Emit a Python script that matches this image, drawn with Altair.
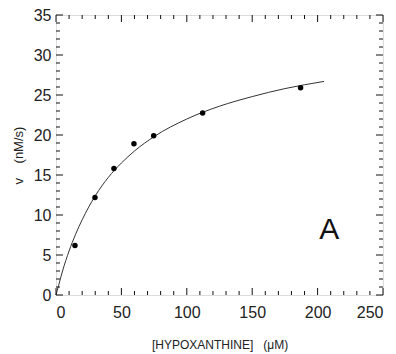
import altair as alt
import pandas as pd

# measured points
hx = [14.5, 29.8, 44.3, 59.6, 74.7, 112.1, 187.0]
v = [6.2, 12.2, 15.8, 18.9, 19.9, 22.75, 25.9]

# fitted curve
curve_x = [0, 2, 5, 10, 15, 20, 30, 40, 50, 60, 75, 100, 125, 150, 175, 205]
curve_y = [0.0, 1.2, 3.0, 5.5, 7.6, 9.4, 12.4, 14.7, 16.5, 18.0, 19.8, 22.0, 23.6, 24.8, 25.8, 26.7]

x_ticks = list(range(0, 251, 10))
y_ticks = list(range(0, 36, 1))
x_labels = [0, 50, 100, 150, 200, 250]
y_labels = [0, 5, 10, 15, 20, 25, 30, 35]

panel_label = ["A"]
panel_x = [209]
panel_y = [8.1]

W, H = 327, 280
FONT = "Liberation Sans"
INK = "#222222"
NB = "\u00a0"
XT = f"[HYPOXANTHINE]{NB*3}(\u03bcM)"
YT = f"v{NB*4}(nM/s)"

xs = alt.Scale(domain=[0, 250], nice=False)
ys = alt.Scale(domain=[0, 35], nice=False)

pts = pd.DataFrame({"x": hx, "y": v})
crv = pd.DataFrame({"x": curve_x, "y": curve_y})
xt = pd.DataFrame({"x": x_ticks, "len": [7 if t % 50 == 0 else 4 for t in x_ticks]})
yt = pd.DataFrame({"y": y_ticks, "len": [7 if t % 5 == 0 else 4 for t in y_ticks]})
lab = pd.DataFrame({"x": panel_x, "y": panel_y, "t": panel_label})

xaxis = alt.Axis(values=x_labels, ticks=False, domain=False, grid=False, labelOverlap=False,
                 labelFont=FONT, labelFontSize=16, labelColor=INK, labelPadding=9,
                 title=XT, titleFont=FONT, titleFontSize=12,
                 titleFontWeight="normal", titleColor=INK, titlePadding=19)
yaxis = alt.Axis(values=y_labels, ticks=False, domain=False, grid=False, labelOverlap=False,
                 labelFont=FONT, labelFontSize=16, labelColor=INK, labelPadding=5,
                 title=YT, titleFont=FONT, titleFontSize=13,
                 titleFontWeight="normal", titleColor=INK, titlePadding=8)

X = lambda: alt.X("x:Q", scale=xs, axis=xaxis, title=XT)
Y = lambda: alt.Y("y:Q", scale=ys, axis=yaxis, title=YT)

line = alt.Chart(crv).mark_line(color="#333333", strokeWidth=1, interpolate="monotone").encode(
    x=X(), y=Y())
dots = alt.Chart(pts).mark_circle(color="#000000", size=30, opacity=1).encode(x=X(), y=Y())

tick_style = dict(color="#111111", strokeWidth=1)
xb = alt.Chart(xt).transform_calculate(y0=f"{H}", y1=f"{H} - datum.len").mark_rule(**tick_style).encode(
    x=X(), y=alt.Y("y0:Q", scale=None, axis=None), y2="y1:Q")
xtp = alt.Chart(xt).transform_calculate(y0="0", y1="datum.len").mark_rule(**tick_style).encode(
    x=X(), y=alt.Y("y0:Q", scale=None, axis=None), y2="y1:Q")
yl = alt.Chart(yt).transform_calculate(x0="0", x1="datum.len").mark_rule(**tick_style).encode(
    y=Y(), x=alt.X("x0:Q", scale=None, axis=None), x2="x1:Q")
yr = alt.Chart(yt).transform_calculate(x0=f"{W}", x1=f"{W} - datum.len").mark_rule(**tick_style).encode(
    y=Y(), x=alt.X("x0:Q", scale=None, axis=None), x2="x1:Q")

txt = alt.Chart(lab).mark_text(font=FONT, fontSize=30, color="#111111").encode(
    x=X(), y=Y(), text="t:N")

chart = alt.layer(line, dots, xb, xtp, yl, yr, txt).properties(
    width=W, height=H,
    autosize=alt.AutoSizeParams(type="none"),
    padding={"left": 48, "top": 7, "right": 5, "bottom": 59},
).configure_view(stroke="#111111", strokeWidth=1.5).configure(background="white")

chart.save("out.html", embed_options={"renderer": "svg", "actions": False})
